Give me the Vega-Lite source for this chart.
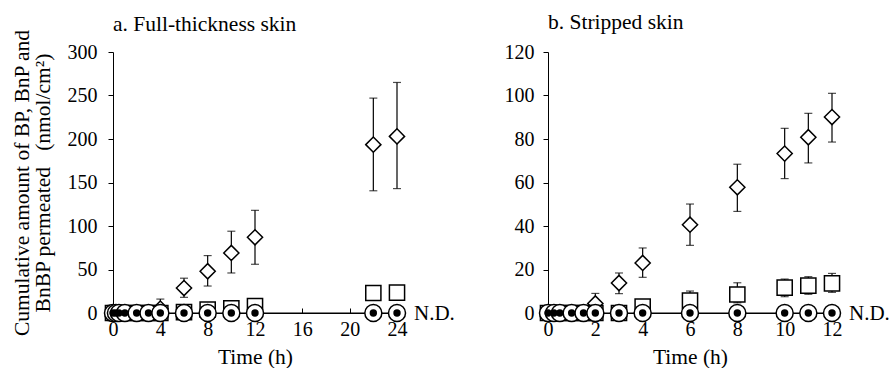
{
  "$schema": "https://vega.github.io/schema/vega-lite/v6.json",
  "padding": {"left": 10, "top": 11, "right": 0, "bottom": 0},
  "background": "white",
  "spacing": 151,
  "bounds": "flush",
  "config": {
    "font": "Liberation Serif, Times New Roman, serif",
    "view": {"stroke": null},
    "axis": {
      "labelFont": "Liberation Serif, Times New Roman, serif", "labelFontSize": 20, "labelColor": "black", "labelFlush": false, "labelOverlap": false,
      "titleFont": "Liberation Serif, Times New Roman, serif", "titleFontSize": 21.5, "titleFontWeight": "normal", "titleColor": "black",
      "domainColor": "black", "tickColor": "black", "grid": false, "domainWidth": 1, "tickWidth": 1
    },
    "title": {"font": "Liberation Serif, Times New Roman, serif", "fontSize": 21.5, "fontWeight": "normal", "anchor": "start", "frame": "group", "color": "black"}
  },
  "datasets": {
    "a": [
      {"s": "BP", "t": 0, "v": 0}, {"s": "BP", "t": 0.25, "v": 0}, {"s": "BP", "t": 0.5, "v": 0}, {"s": "BP", "t": 1, "v": 0},
      {"s": "BP", "t": 2, "v": 0}, {"s": "BP", "t": 3, "v": 0},
      {"s": "BP", "t": 4, "v": 5, "lo": 0, "hi": 16},
      {"s": "BP", "t": 6, "v": 28.7, "lo": 18, "hi": 40},
      {"s": "BP", "t": 8, "v": 48, "lo": 31, "hi": 66},
      {"s": "BP", "t": 10, "v": 69, "lo": 46, "hi": 94},
      {"s": "BP", "t": 12, "v": 87, "lo": 56, "hi": 118},
      {"s": "BP", "t": 22, "v": 193.5, "lo": 140.5, "hi": 247},
      {"s": "BP", "t": 24, "v": 203, "lo": 143, "hi": 265},
      {"s": "BnP", "t": 0, "v": 0}, {"s": "BnP", "t": 0.25, "v": 0}, {"s": "BnP", "t": 0.5, "v": 0}, {"s": "BnP", "t": 1, "v": 0},
      {"s": "BnP", "t": 2, "v": 0}, {"s": "BnP", "t": 3, "v": 0}, {"s": "BnP", "t": 4, "v": 0},
      {"s": "BnP", "t": 6, "v": 1}, {"s": "BnP", "t": 8, "v": 4}, {"s": "BnP", "t": 10, "v": 5.5},
      {"s": "BnP", "t": 12, "v": 8}, {"s": "BnP", "t": 22, "v": 23}, {"s": "BnP", "t": 24, "v": 23.5},
      {"s": "BnBP", "t": 0, "v": 0}, {"s": "BnBP", "t": 0.25, "v": 0}, {"s": "BnBP", "t": 0.5, "v": 0}, {"s": "BnBP", "t": 1, "v": 0},
      {"s": "BnBP", "t": 2, "v": 0}, {"s": "BnBP", "t": 3, "v": 0}, {"s": "BnBP", "t": 4, "v": 0}, {"s": "BnBP", "t": 6, "v": 0},
      {"s": "BnBP", "t": 8, "v": 0}, {"s": "BnBP", "t": 10, "v": 0}, {"s": "BnBP", "t": 12, "v": 0},
      {"s": "BnBP", "t": 22, "v": 0}, {"s": "BnBP", "t": 24, "v": 0},
      {"s": "ND", "t": 24, "v": 0, "label": "N.D."}
    ],
    "b": [
      {"s": "BP", "t": 0, "v": 0}, {"s": "BP", "t": 0.25, "v": 0}, {"s": "BP", "t": 0.5, "v": 0}, {"s": "BP", "t": 1, "v": 0}, {"s": "BP", "t": 1.5, "v": 0},
      {"s": "BP", "t": 2, "v": 4.4, "lo": 0.5, "hi": 9},
      {"s": "BP", "t": 3, "v": 13.8, "lo": 8.9, "hi": 18.4},
      {"s": "BP", "t": 4, "v": 23, "lo": 16.4, "hi": 29.9},
      {"s": "BP", "t": 6, "v": 40.6, "lo": 31.1, "hi": 50.1},
      {"s": "BP", "t": 8, "v": 57.8, "lo": 46.7, "hi": 68.4},
      {"s": "BP", "t": 10, "v": 73.3, "lo": 61.8, "hi": 84.9},
      {"s": "BP", "t": 11, "v": 80.8, "lo": 69, "hi": 91.8},
      {"s": "BP", "t": 12, "v": 90.1, "lo": 78.6, "hi": 101},
      {"s": "BnP", "t": 0, "v": 0}, {"s": "BnP", "t": 0.25, "v": 0}, {"s": "BnP", "t": 0.5, "v": 0}, {"s": "BnP", "t": 1, "v": 0}, {"s": "BnP", "t": 1.5, "v": 0},
      {"s": "BnP", "t": 2, "v": 0}, {"s": "BnP", "t": 3, "v": 0},
      {"s": "BnP", "t": 4, "v": 2.9},
      {"s": "BnP", "t": 6, "v": 5.7, "lo": 1.5, "hi": 10.1},
      {"s": "BnP", "t": 8, "v": 8.5, "lo": 4.7, "hi": 13.9},
      {"s": "BnP", "t": 10, "v": 11.7, "lo": 7.5, "hi": 15.6},
      {"s": "BnP", "t": 11, "v": 12.6, "lo": 8.6, "hi": 16.7},
      {"s": "BnP", "t": 12, "v": 13.6, "lo": 9.5, "hi": 18.2},
      {"s": "BnBP", "t": 0, "v": 0}, {"s": "BnBP", "t": 0.25, "v": 0}, {"s": "BnBP", "t": 0.5, "v": 0}, {"s": "BnBP", "t": 1, "v": 0}, {"s": "BnBP", "t": 1.5, "v": 0},
      {"s": "BnBP", "t": 2, "v": 0}, {"s": "BnBP", "t": 3, "v": 0}, {"s": "BnBP", "t": 4, "v": 0}, {"s": "BnBP", "t": 6, "v": 0},
      {"s": "BnBP", "t": 8, "v": 0}, {"s": "BnBP", "t": 10, "v": 0}, {"s": "BnBP", "t": 11, "v": 0}, {"s": "BnBP", "t": 12, "v": 0},
      {"s": "ND", "t": 12, "v": 0, "label": "N.D."}
    ]
  },
  "hconcat": [
    {
      "width": 284, "height": 261,
      "title": {"text": "a. Full-thickness skin", "offset": -6},
      "data": {"name": "a"},
      "encoding": {
        "x": {"field": "t", "type": "quantitative", "title": "Time (h)",
          "scale": {"domain": [0, 24], "nice": false, "zero": false},
          "axis": {"values": [0, 4, 8, 12, 16, 20, 24], "tickSize": -5, "labelPadding": 11, "titlePadding": 7}}
      },
      "layer": [
        {"transform": [{"filter": "datum.s === 'BP' && isValid(datum.hi)"}],
         "mark": {"type": "rule", "color": "black", "strokeWidth": 1.2},
         "encoding": {"y": {"field": "lo", "type": "quantitative", "title": ["Cumulative amount of BP, BnP and", "BnBP permeated\u00a0\u00a0\u00a0(nmol/cm\u00b2)"],
            "scale": {"domain": [0, 300], "nice": false},
            "axis": {"values": [0, 50, 100, 150, 200, 250, 300], "tickSize": 5, "labelPadding": 11, "titlePadding": 13, "titleLineHeight": 21}},
          "y2": {"field": "hi"}}},
        {"transform": [{"filter": "datum.s === 'BP' && isValid(datum.hi)"}],
         "mark": {"type": "tick", "orient": "horizontal", "size": 8, "thickness": 1.2, "color": "black"},
         "encoding": {"y": {"field": "hi", "type": "quantitative", "title": ["Cumulative amount of BP, BnP and", "BnBP permeated\u00a0\u00a0\u00a0(nmol/cm\u00b2)"]}}},
        {"transform": [{"filter": "datum.s === 'BP' && isValid(datum.hi)"}],
         "mark": {"type": "tick", "orient": "horizontal", "size": 8, "thickness": 1.2, "color": "black"},
         "encoding": {"y": {"field": "lo", "type": "quantitative", "title": ["Cumulative amount of BP, BnP and", "BnBP permeated\u00a0\u00a0\u00a0(nmol/cm\u00b2)"]}}},
        {"transform": [{"filter": "datum.s === 'BP'"}],
         "mark": {"type": "point", "shape": "diamond", "size": 230, "filled": true, "fill": "white", "stroke": "black", "strokeWidth": 1.5, "opacity": 1},
         "encoding": {"y": {"field": "v", "type": "quantitative", "title": ["Cumulative amount of BP, BnP and", "BnBP permeated\u00a0\u00a0\u00a0(nmol/cm\u00b2)"]}}},
        {"transform": [{"filter": "datum.s === 'BnP'"}],
         "mark": {"type": "point", "shape": "square", "size": 230, "filled": true, "fill": "white", "stroke": "black", "strokeWidth": 1.5, "opacity": 1},
         "encoding": {"y": {"field": "v", "type": "quantitative", "title": ["Cumulative amount of BP, BnP and", "BnBP permeated\u00a0\u00a0\u00a0(nmol/cm\u00b2)"]}}},
        {"transform": [{"filter": "datum.s === 'BnBP'"}],
         "mark": {"type": "line", "color": "black", "strokeWidth": 1.2},
         "encoding": {"y": {"field": "v", "type": "quantitative", "title": ["Cumulative amount of BP, BnP and", "BnBP permeated\u00a0\u00a0\u00a0(nmol/cm\u00b2)"]}}},
        {"transform": [{"filter": "datum.s === 'BnBP'"}],
         "mark": {"type": "point", "shape": "circle", "size": 290, "filled": true, "fill": "white", "stroke": "black", "strokeWidth": 1.5, "opacity": 1},
         "encoding": {"y": {"field": "v", "type": "quantitative", "title": ["Cumulative amount of BP, BnP and", "BnBP permeated\u00a0\u00a0\u00a0(nmol/cm\u00b2)"]}}},
        {"transform": [{"filter": "datum.s === 'BnBP'"}],
         "mark": {"type": "point", "shape": "circle", "size": 55, "filled": true, "color": "black", "opacity": 1},
         "encoding": {"y": {"field": "v", "type": "quantitative", "title": ["Cumulative amount of BP, BnP and", "BnBP permeated\u00a0\u00a0\u00a0(nmol/cm\u00b2)"]}}},
        {"transform": [{"filter": "datum.s === 'ND'"}],
         "mark": {"type": "text", "align": "left", "baseline": "middle", "dx": 17, "dy": 1, "fontSize": 21, "font": "Liberation Serif, Times New Roman, serif", "color": "black"},
         "encoding": {"y": {"field": "v", "type": "quantitative", "title": ["Cumulative amount of BP, BnP and", "BnBP permeated\u00a0\u00a0\u00a0(nmol/cm\u00b2)"]}, "text": {"field": "label"}}}
      ]
    },
    {
      "width": 284, "height": 261,
      "title": {"text": "b. Stripped skin", "offset": 9},
      "data": {"name": "b"},
      "encoding": {
        "x": {"field": "t", "type": "quantitative", "title": "Time (h)",
          "scale": {"domain": [0, 12], "nice": false, "zero": false},
          "axis": {"values": [0, 2, 4, 6, 8, 10, 12], "tickSize": -5, "labelPadding": 11, "titlePadding": 7}}
      },
      "layer": [
        {"transform": [{"filter": "isValid(datum.hi)"}],
         "mark": {"type": "rule", "color": "black", "strokeWidth": 1.2},
         "encoding": {"y": {"field": "lo", "type": "quantitative", "title": null,
            "scale": {"domain": [0, 120], "nice": false},
            "axis": {"values": [0, 20, 40, 60, 80, 100, 120], "tickSize": 5, "labelPadding": 9}},
          "y2": {"field": "hi"}}},
        {"transform": [{"filter": "isValid(datum.hi)"}],
         "mark": {"type": "tick", "orient": "horizontal", "size": 8, "thickness": 1.2, "color": "black"},
         "encoding": {"y": {"field": "hi", "type": "quantitative", "title": null}}},
        {"transform": [{"filter": "isValid(datum.hi)"}],
         "mark": {"type": "tick", "orient": "horizontal", "size": 8, "thickness": 1.2, "color": "black"},
         "encoding": {"y": {"field": "lo", "type": "quantitative", "title": null}}},
        {"transform": [{"filter": "datum.s === 'BP'"}],
         "mark": {"type": "point", "shape": "diamond", "size": 230, "filled": true, "fill": "white", "stroke": "black", "strokeWidth": 1.5, "opacity": 1},
         "encoding": {"y": {"field": "v", "type": "quantitative", "title": null}}},
        {"transform": [{"filter": "datum.s === 'BnP'"}],
         "mark": {"type": "point", "shape": "square", "size": 230, "filled": true, "fill": "white", "stroke": "black", "strokeWidth": 1.5, "opacity": 1},
         "encoding": {"y": {"field": "v", "type": "quantitative", "title": null}}},
        {"transform": [{"filter": "datum.s === 'BnBP'"}],
         "mark": {"type": "line", "color": "black", "strokeWidth": 1.2},
         "encoding": {"y": {"field": "v", "type": "quantitative", "title": null}}},
        {"transform": [{"filter": "datum.s === 'BnBP'"}],
         "mark": {"type": "point", "shape": "circle", "size": 290, "filled": true, "fill": "white", "stroke": "black", "strokeWidth": 1.5, "opacity": 1},
         "encoding": {"y": {"field": "v", "type": "quantitative", "title": null}}},
        {"transform": [{"filter": "datum.s === 'BnBP'"}],
         "mark": {"type": "point", "shape": "circle", "size": 55, "filled": true, "color": "black", "opacity": 1},
         "encoding": {"y": {"field": "v", "type": "quantitative", "title": null}}},
        {"transform": [{"filter": "datum.s === 'ND'"}],
         "mark": {"type": "text", "align": "left", "baseline": "middle", "dx": 17, "dy": 1, "fontSize": 21, "font": "Liberation Serif, Times New Roman, serif", "color": "black"},
         "encoding": {"y": {"field": "v", "type": "quantitative", "title": null}, "text": {"field": "label"}}}
      ]
    }
  ]
}
